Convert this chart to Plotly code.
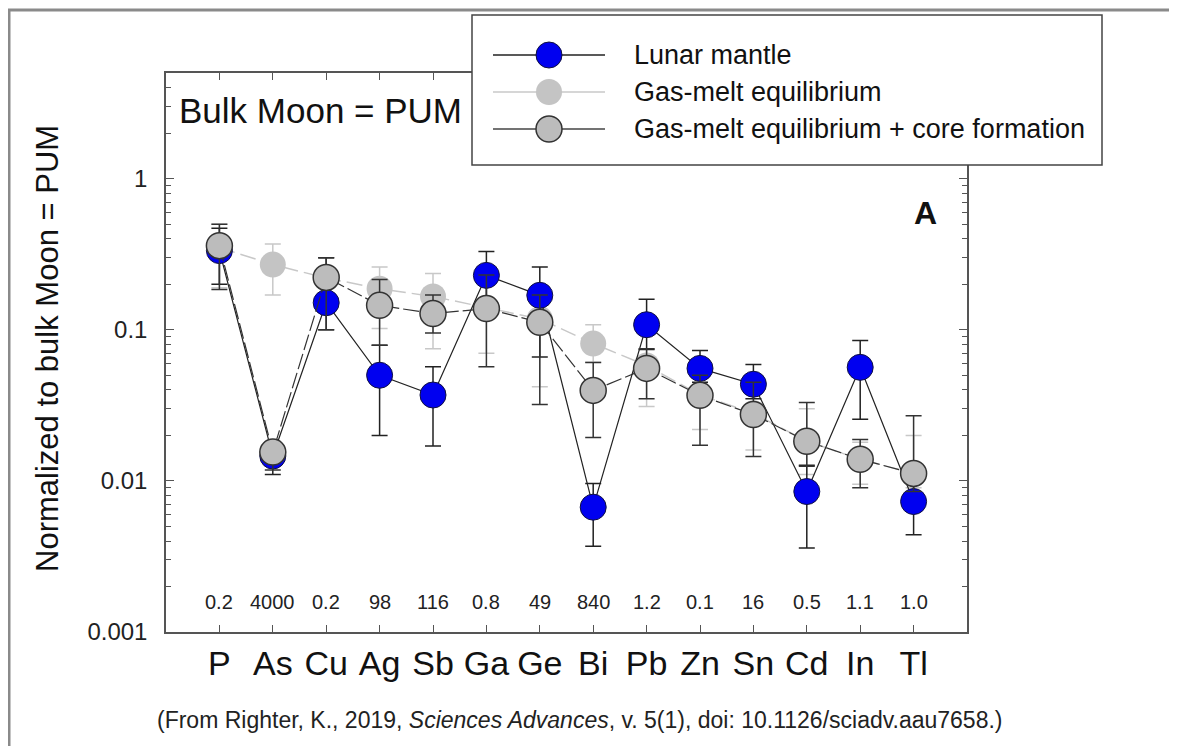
import plotly.graph_objects as go

# ---------------- data ----------------
elements = ["P", "As", "Cu", "Ag", "Sb", "Ga", "Ge", "Bi", "Pb", "Zn", "Sn", "Cd", "In", "Tl"]
ratios = ["0.2", "4000", "0.2", "98", "116", "0.8", "49", "840", "1.2", "0.1", "16", "0.5", "1.1", "1.0"]

lunar = [0.334, 0.0146, 0.151, 0.050, 0.037, 0.229, 0.169, 0.0067, 0.108, 0.0555, 0.0436, 0.0085, 0.0564, 0.0073]
lunar_hi = [0.47, 0.0175, 0.30, 0.079, 0.057, 0.33, 0.26, 0.0096, 0.159, 0.073, 0.059, 0.0127, 0.085, 0.0105]
lunar_lo = [0.20, 0.0110, 0.10, 0.020, 0.017, 0.16, 0.066, 0.0037, 0.074, 0.045, 0.035, 0.0036, 0.0256, 0.0044]

gas_melt = [0.35, 0.27, 0.22, 0.187, 0.166, 0.14, 0.118, 0.081, 0.058, 0.037, 0.028, 0.0183, 0.0139, 0.0112]
gas_melt_hi = [0.50, 0.37, 0.30, 0.26, 0.236, 0.20, 0.17, 0.108, 0.075, 0.050, 0.040, 0.030, 0.018, 0.020]
gas_melt_lo = [0.19, 0.17, 0.13, 0.102, 0.075, 0.07, 0.042, 0.061, 0.031, 0.0219, 0.016, 0.011, 0.0095, 0.009]

core = [0.36, 0.0155, 0.222, 0.145, 0.128, 0.138, 0.112, 0.0397, 0.0555, 0.0368, 0.0275, 0.0183, 0.0139, 0.0112]
core_hi = [0.50, 0.018, 0.30, 0.215, 0.17, 0.23, 0.17, 0.0607, 0.075, 0.050, 0.045, 0.033, 0.0188, 0.027]
core_lo = [0.185, 0.0118, 0.10, 0.079, 0.095, 0.057, 0.032, 0.0194, 0.035, 0.0172, 0.0145, 0.0125, 0.009, 0.0085]

y_major = [0.001, 0.01, 0.1, 1]
y_major_text = ["0.001", "0.01", "0.1", "1"]

# ---------------- layout geometry (page pixels; page body has an 8 px margin) ----------------
OFF = 8
W, H = 1177 - OFF, 746 - OFF
L, R, T, B = 166, 967, 73, 632          # plot frame in page pixels
FONT = "Arial, Liberation Sans, sans-serif"


def px(xp):
    return (xp - L) / (R - L)


def py(yp):
    return (B - yp) / (B - T)


def up(v, hi):
    return [h - x for x, h in zip(v, hi)]


def down(v, lo):
    return [x - l for x, l in zip(v, lo)]


fig = go.Figure()

fig.add_trace(go.Scatter(
    x=elements, y=gas_melt, mode="lines+markers", name="Gas-melt equilibrium",
    line=dict(color="#c8c8c8", width=1.5, dash="16px,6px"),
    marker=dict(size=26, color="#c4c4c4", line=dict(width=0)),
    error_y=dict(type="data", symmetric=False, array=up(gas_melt, gas_melt_hi),
                 arrayminus=down(gas_melt, gas_melt_lo), color="#c8c8c8", thickness=1.5, width=8),
    showlegend=False,
))

fig.add_trace(go.Scatter(
    x=elements, y=lunar, mode="lines+markers", name="Lunar mantle",
    line=dict(color="#222222", width=1.2),
    marker=dict(size=26, color="#0000f0", line=dict(width=1, color="#101040")),
    error_y=dict(type="data", symmetric=False, array=up(lunar, lunar_hi),
                 arrayminus=down(lunar, lunar_lo), color="#222222", thickness=1.5, width=8),
    showlegend=False,
))

fig.add_trace(go.Scatter(
    x=elements, y=core, mode="lines+markers", name="Gas-melt equilibrium + core formation",
    line=dict(color="#333333", width=1.2, dash="16px,4px"),
    marker=dict(size=26, color="#bcbcbc", line=dict(width=1.5, color="#333333")),
    error_y=dict(type="data", symmetric=False, array=up(core, core_hi),
                 arrayminus=down(core, core_lo), color="#333333", thickness=1.5, width=8),
    showlegend=False,
))

minor_vals = [m * 10.0 ** e for e in range(-3, 1) for m in range(2, 10)]

fig.update_xaxes(
    type="category", categoryorder="array", categoryarray=elements,
    range=[-1, len(elements)], showline=True, linecolor="#555555", linewidth=1.5,
    mirror="ticks", ticks="inside", ticklen=7, tickcolor="#555555", tickwidth=1,
    showgrid=False, zeroline=False,
    tickfont=dict(family=FONT, size=34, color="#111111"),
)
fig.update_yaxes(
    type="log", range=[-3, 0.699], tickvals=y_major, ticktext=y_major_text,
    showline=True, linecolor="#555555", linewidth=1.5, mirror="ticks",
    ticks="inside", ticklen=8, tickcolor="#555555", tickwidth=1,
    minor=dict(tickvals=minor_vals, ticks="inside", ticklen=5, tickcolor="#555555", showgrid=False),
    showgrid=False, zeroline=False, ticklabelstandoff=12,
    tickfont=dict(family=FONT, size=24, color="#222222"),
)

shapes = []
annotations = []

# outer frame of the picture
shapes.append(dict(type="line", xref="paper", yref="paper", x0=px(7), x1=px(1185), y0=py(10), y1=py(10),
                   line=dict(color="#8a8a8a", width=3), layer="above"))
shapes.append(dict(type="line", xref="paper", yref="paper", x0=px(9), x1=px(9), y0=py(10), y1=py(760),
                   line=dict(color="#8a8a8a", width=3), layer="above"))

# legend box
shapes.append(dict(type="rect", xref="paper", yref="paper", x0=px(472), x1=px(1102), y0=py(165), y1=py(15),
                   line=dict(color="#444444", width=1.5), fillcolor="white", layer="above"))

legend_rows = [
    ("Lunar mantle", 55, "#222222", "#0000f0", "#101040", 1),
    ("Gas-melt equilibrium", 92, "#c8c8c8", "#c4c4c4", "#c4c4c4", 0.1),
    ("Gas-melt equilibrium + core formation", 129, "#444444", "#bcbcbc", "#333333", 1.5),
]
for label, yr, lc, fc, oc, ow in legend_rows:
    shapes.append(dict(type="line", xref="paper", yref="paper", x0=px(493), x1=px(605), y0=py(yr), y1=py(yr),
                       line=dict(color=lc, width=1.5), layer="above"))
    shapes.append(dict(type="circle", xref="paper", yref="paper", x0=px(549 - 13), x1=px(549 + 13),
                       y0=py(yr + 13), y1=py(yr - 13), fillcolor=fc,
                       line=dict(color=oc, width=ow), layer="above"))
    annotations.append(dict(text=label, xref="paper", yref="paper", x=px(632), y=py(yr), xanchor="left",
                            yanchor="middle", showarrow=False, font=dict(family=FONT, size=27, color="#111111")))

# per element numbers
for el, r in zip(elements, ratios):
    annotations.append(dict(text=r, xref="x", yref="paper", x=el, y=py(602), showarrow=False,
                            xanchor="center", yanchor="middle", font=dict(family=FONT, size=20, color="#222222")))

annotations.append(dict(text="Bulk Moon = PUM", xref="paper", yref="paper", x=px(177), y=py(110),
                        xanchor="left", yanchor="middle", showarrow=False,
                        font=dict(family=FONT, size=35, color="#111111")))
annotations.append(dict(text="<b>A</b>", xref="paper", yref="paper", x=px(925), y=py(213),
                        xanchor="center", yanchor="middle", showarrow=False,
                        font=dict(family=FONT, size=32, color="#111111")))
annotations.append(dict(text="Normalized to bulk Moon = PUM", xref="paper", yref="paper", x=px(47), y=py(349),
                        xanchor="center", yanchor="middle", textangle=-90, showarrow=False,
                        font=dict(family=FONT, size=31, color="#111111")))
annotations.append(dict(text="(From Righter, K., 2019, <i>Sciences Advances</i>, v. 5(1), doi: 10.1126/sciadv.aau7658.)",
                        xref="paper", yref="paper", x=px(580), y=py(720), xanchor="center", yanchor="middle",
                        showarrow=False, font=dict(family=FONT, size=23, color="#222222")))

fig.update_layout(
    width=W, height=H, autosize=False,
    margin=dict(l=L - OFF, r=(W + OFF) - R, t=T - OFF, b=(H + OFF) - B, pad=0),
    paper_bgcolor="white", plot_bgcolor="white",
    showlegend=False, shapes=shapes, annotations=annotations,
    font=dict(family=FONT),
)

fig.write_html("out.html")
